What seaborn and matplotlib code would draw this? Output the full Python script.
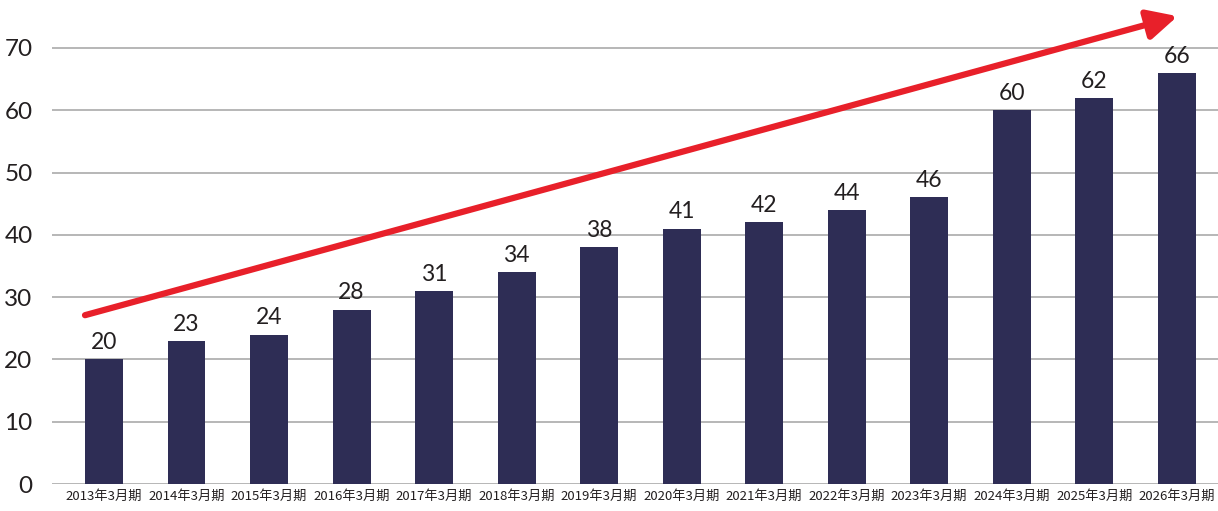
import matplotlib
matplotlib.use("Agg")
import matplotlib.pyplot as plt
import seaborn as sns
import pandas as pd

categories = ["2013年3月期", "2014年3月期", "2015年3月期", "2016年3月期", "2017年3月期",
              "2018年3月期", "2019年3月期", "2020年3月期", "2021年3月期", "2022年3月期",
              "2023年3月期", "2024年3月期", "2025年3月期", "2026年3月期"]
values = [20, 23, 24, 28, 31, 34, 38, 41, 42, 44, 46, 60, 62, 66]
yticks = [0, 10, 20, 30, 40, 50, 60, 70]

sns.set_theme(style="white")
plt.rcParams['font.family'] = ['Noto Sans CJK JP', 'DejaVu Sans']

df = pd.DataFrame({"cat": categories, "val": values})

fig = plt.figure(figsize=(12.18, 5.11), dpi=100)
ax = fig.add_axes([52/1218, 27/511, 1166/1218, 484/511])

ax.set_axisbelow(True)
for t in yticks:
    ax.axhline(t, color="#a3a3a3", lw=1.1, zorder=0)

sns.barplot(data=df, x="cat", y="val", color="#2e2d55", width=0.46,
            saturation=1, linewidth=0, edgecolor="none", ax=ax, zorder=2)

for i, v in enumerate(values):
    ax.text(i, v + 1.0, str(v), ha="center", va="bottom", fontsize=16.5,
            color="#231f20", family="Lato")

ax.set_xlim(-0.63, 13.5)
ax.set_ylim(0, 484/6.229)
ax.set_yticks(yticks)
ax.set_yticklabels([str(t) for t in yticks], fontsize=17.5, color="#231f20",
                   family="Lato")
ax.tick_params(axis="y", length=0, pad=14)
ax.tick_params(axis="x", length=0, pad=4)
ax.set_xticks(range(len(categories)))
ax.set_xticklabels(categories, fontsize=9.5, color="#231f20")
for s in ax.spines.values():
    s.set_visible(False)
ax.set_xlabel("")
ax.set_ylabel("")

ax.annotate("", xy=(13.01, 75.1), xytext=(-0.23, 27.1),
            arrowprops=dict(arrowstyle="-|>,head_length=1.5,head_width=0.75",
                            color="#e8202a", lw=4.5, shrinkA=0, shrinkB=0),
            annotation_clip=False, zorder=5)

fig.savefig("out.png", dpi=100)
